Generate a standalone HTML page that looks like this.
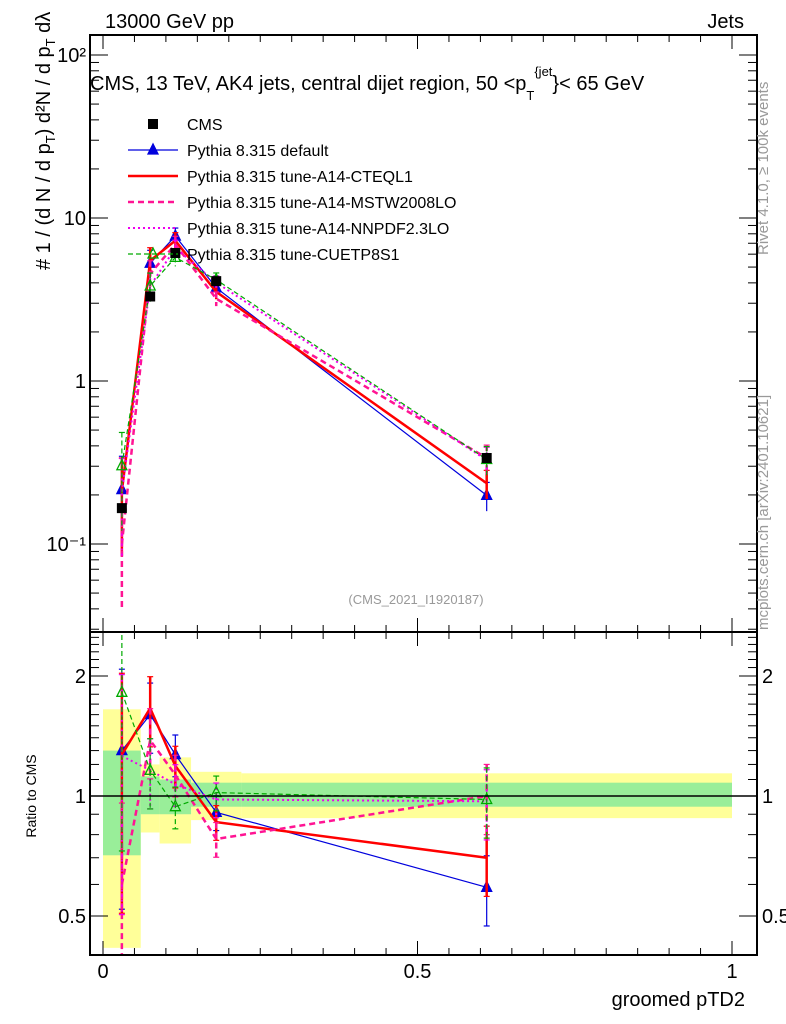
<!DOCTYPE html>
<html><head><meta charset="utf-8"><style>
body{margin:0;background:#fff}
svg{display:block;font-family:"Liberation Sans",sans-serif}
</style></head><body>
<svg id="c" width="786" height="1024" viewBox="0 0 786 1024">
<g id="bands" clip-path="url(#cr)"></g>
<g id="marks"></g>
<g id="axes"></g>
<text x="105" y="28" font-size="20">13000 GeV pp</text>
<text x="744" y="28" font-size="20" text-anchor="end">Jets</text>
<text x="90" y="90" font-size="20">CMS, 13 TeV, AK4 jets, central dijet region, 50 &lt;p<tspan font-size="13" dy="10">T</tspan><tspan font-size="13" dy="-24">{jet</tspan><tspan dy="14">}&lt; 65 GeV</tspan></text>
<text x="416" y="604" font-size="13" fill="#999" text-anchor="middle">(CMS_2021_I1920187)</text>
<text x="745" y="1006" font-size="20" text-anchor="end">groomed pTD2</text>
<text transform="translate(36,796) rotate(-90)" font-size="14" text-anchor="middle">Ratio to CMS</text>
<text transform="translate(50,270) rotate(-90)" font-size="20" text-anchor="start"># <tspan dy="0">1 / (d N / d p</tspan><tspan font-size="13" dy="5">T</tspan><tspan dy="-5">) d²N / d p</tspan><tspan font-size="13" dy="5">T</tspan><tspan dy="-5"> dλ</tspan></text>
<text transform="translate(768,255) rotate(-90)" font-size="15" fill="#999">Rivet 4.1.0, ≥ 100k events</text>
<text transform="translate(768,630) rotate(-90)" font-size="15" fill="#999">mcplots.cern.ch [arXiv:2401.10621]</text>
<g id="legend"></g>
</svg>
<script>
const xs=[0.03,0.075,0.115,0.18,0.61];
const binEdges=[0,0.06,0.09,0.14,0.22,1.0];
const cms=[0.166,3.3,6.1,4.1,0.337];
const bandYellowLo=[0.416,0.81,0.76,0.87,0.88];
const bandYellowHi=[1.65,1.20,1.25,1.15,1.14];
const bandGreenLo=[0.71,0.90,0.90,0.94,0.94];
const bandGreenHi=[1.30,1.12,1.10,1.08,1.08];
const rDefault=[1.30,1.60,1.27,0.91,0.59];
const rA14=[1.27,1.66,1.19,0.86,0.70];
const rMSTW=[0.60,1.38,1.13,0.78,1.00];
const rNNPDF=[1.26,1.16,1.07,0.98,0.97];
const rCUETP=[1.82,1.16,0.94,1.02,0.98];
const relErr=[0.6,0.2,0.12,0.1,0.2];
const seriesNames=["Pythia 8.315 default","Pythia 8.315 tune-A14-CTEQL1","Pythia 8.315 tune-A14-MSTW2008LO","Pythia 8.315 tune-A14-NNPDF2.3LO","Pythia 8.315 tune-CUETP8S1"];
const mainTicks=["10⁻¹","1","10","10²"];

const NS="http://www.w3.org/2000/svg";
const L=90,R=757,T=35,M=632,B=955;
const X=v=>103+v*629;
const Y=v=>381-163*Math.log10(v);
const RY=v=>796-120*Math.log2(v);
function el(p,t,a){const e=document.createElementNS(NS,t);for(const k in a)e.setAttribute(k,a[k]);p.appendChild(e);return e;}
const bands=document.getElementById('bands'),marks=document.getElementById('marks'),axes=document.getElementById('axes'),leg=document.getElementById('legend');
const clipR=el(document.getElementById('c'),'clipPath',{id:'cr'});el(clipR,'rect',{x:L,y:M,width:R-L,height:B-M});
const clipM=el(document.getElementById('c'),'clipPath',{id:'cm'});el(clipM,'rect',{x:L,y:T,width:R-L,height:M-T});
for(let i=0;i<xs.length;i++){
 const x0=X(binEdges[i]),x1=X(binEdges[i+1]);
 const yb=el(bands,'rect',{x:x0,y:RY(bandYellowHi[i]),width:x1-x0,height:RY(bandYellowLo[i])-RY(bandYellowHi[i]),fill:'#ffff99'});
 
 
}
for(let i=0;i<xs.length;i++){
 const x0=X(binEdges[i]),x1=X(binEdges[i+1]);
 const gb=el(bands,'rect',{x:x0,y:RY(bandGreenHi[i]),width:x1-x0,height:RY(bandGreenLo[i])-RY(bandGreenHi[i]),fill:'#99ee99'});
 
 
}
const styles=[
 {r:rDefault,c:'#0000dd',w:1.2,d:'',m:'tri'},
 {r:rA14,c:'#ff0000',w:2.5,d:'',m:'none'},
 {r:rMSTW,c:'#ff1493',w:2.5,d:'6,4',m:'none'},
 {r:rNNPDF,c:'#ee00ee',w:2,d:'2,3',m:'none'},
 {r:rCUETP,c:'#00aa00',w:1.2,d:'5,3',m:'otri'}];
function tri(g,x,y,s,fill){const p=el(g,'polygon',{points:`${x},${y-6} ${x-5},${y+4} ${x+5},${y+4}`,fill:fill?s.c:'none',stroke:s.c,'stroke-width':1.3});return p;}
styles.forEach((s,k)=>{
 const gm=el(marks,'g',{'clip-path':'url(#cm)'});
 
 
 const gr=el(marks,'g',{'clip-path':'url(#cr)'});
 
 
 const pm=xs.map((x,i)=>X(x)+','+Y(cms[i]*s.r[i])).join(' ');
 const pr=xs.map((x,i)=>X(x)+','+RY(s.r[i])).join(' ');
 el(gm,'polyline',{points:pm,fill:'none',stroke:s.c,'stroke-width':s.w,'stroke-dasharray':s.d});
 el(gr,'polyline',{points:pr,fill:'none',stroke:s.c,'stroke-width':s.w,'stroke-dasharray':s.d});
 xs.forEach((x,i)=>{
  const v=cms[i]*s.r[i],e=relErr[i];
  const ya=Y(v*(1+e)),yb=Y(Math.max(v*(1-e),1e-3));
  el(gm,'line',{x1:X(x),x2:X(x),y1:ya,y2:yb,stroke:s.c,'stroke-width':s.w,'stroke-dasharray':s.d});
  el(gm,'line',{x1:X(x)-3,x2:X(x)+3,y1:ya,y2:ya,stroke:s.c,'stroke-width':1.2});
  const ra=RY(s.r[i]*(1+e)),rb=RY(Math.max(s.r[i]*(1-e),0.01));
  el(gr,'line',{x1:X(x),x2:X(x),y1:ra,y2:rb,stroke:s.c,'stroke-width':s.w,'stroke-dasharray':s.d});
  el(gr,'line',{x1:X(x)-3,x2:X(x)+3,y1:ra,y2:ra,stroke:s.c,'stroke-width':1.2});
  el(gr,'line',{x1:X(x)-3,x2:X(x)+3,y1:rb,y2:rb,stroke:s.c,'stroke-width':1.2});
  if(s.m!=='none'){tri(gm,X(x),Y(v),s,s.m==='tri');tri(gr,X(x),RY(s.r[i]),s,s.m==='tri');}
 });
});
xs.forEach((x,i)=>{
 const sq=el(marks,'rect',{x:X(x)-5,y:Y(cms[i])-5,width:10,height:10,fill:'#000'});
 
 
});
el(axes,'line',{x1:L,x2:R,y1:RY(1),y2:RY(1),stroke:'#000','stroke-width':1.5});
el(axes,'rect',{x:L,y:T,width:R-L,height:M-T,fill:'none',stroke:'#000','stroke-width':2});
el(axes,'rect',{x:L,y:M,width:R-L,height:B-M,fill:'none',stroke:'#000','stroke-width':2});
for(let v=0;v<=1.0001;v+=0.05){const maj=Math.abs(v*10-Math.round(v*10))<1e-6&&Math.round(v*10)%5===0;const h=maj?14:7;
 [T,M].forEach(y0=>el(axes,'line',{x1:X(v),x2:X(v),y1:y0,y2:y0+h,stroke:'#000'}));
 [M,B].forEach(y0=>el(axes,'line',{x1:X(v),x2:X(v),y1:y0,y2:y0-h,stroke:'#000'}));}
["0","0.5","1"].forEach((t,i)=>{const tx=el(axes,'text',{x:X(i*0.5),y:978,'font-size':20,'text-anchor':'middle'});tx.textContent=t;});
for(let d=-2;d<=2;d++)for(let m=1;m<10;m++){const v=m*Math.pow(10,d),y=Y(v);if(y<T||y>M)continue;const h=m===1?18:9;
 el(axes,'line',{x1:L,x2:L+h,y1:y,y2:y,stroke:'#000'});el(axes,'line',{x1:R,x2:R-h,y1:y,y2:y,stroke:'#000'});}
[0.1,1,10,100].forEach((v,i)=>{const tx=el(axes,'text',{x:86,y:Y(v)+7,'font-size':20,'text-anchor':'end'});tx.textContent=mainTicks[i];});
for(let v=0.4;v<=2.6;v+=0.1){const y=RY(v);if(y<M||y>B)continue;const maj=[0.5,1,2].some(q=>Math.abs(q-v)<1e-6);const h=maj?18:9;
 el(axes,'line',{x1:L,x2:L+h,y1:y,y2:y,stroke:'#000'});el(axes,'line',{x1:R,x2:R-h,y1:y,y2:y,stroke:'#000'});}
[["2",2],["1",1],["0.5",0.5]].forEach(([t,v])=>{const a=el(axes,'text',{x:86,y:RY(v)+7,'font-size':20,'text-anchor':'end'});a.textContent=t;
 const b=el(axes,'text',{x:762,y:RY(v)+7,'font-size':20});b.textContent=t;});
const ly0=124,ld=26;
el(leg,'rect',{x:148,y:ly0-5,width:10,height:10,fill:'#000'});
const lt0=el(leg,'text',{x:187,y:ly0+6,'font-size':16});lt0.textContent='CMS';
styles.forEach((s,k)=>{const y=ly0+ld*(k+1);
 el(leg,'line',{x1:128,x2:178,y1:y,y2:y,stroke:s.c,'stroke-width':s.w,'stroke-dasharray':s.d});
 if(s.m!=='none')tri(leg,153,y,s,s.m==='tri');
 const t=el(leg,'text',{x:187,y:y+6,'font-size':16});t.textContent=seriesNames[k];});
</script>
</body></html>
